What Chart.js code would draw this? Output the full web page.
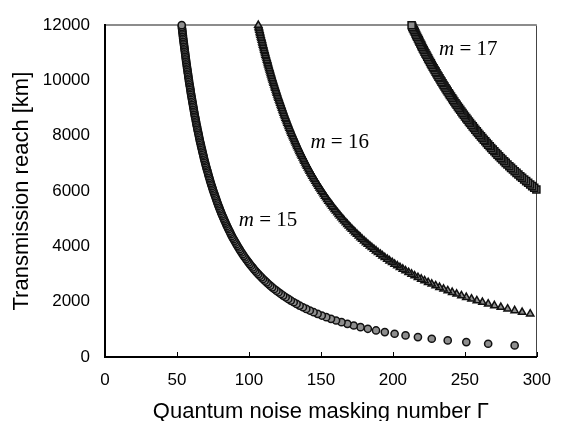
<!DOCTYPE html>
<html>
<head>
<meta charset="utf-8">
<script src="https://cdn.jsdelivr.net/npm/chart.js@4.4.0/dist/chart.umd.min.js"></script>
<style>
  html, body { margin: 0; padding: 0; background: #fff; }
  #wrap { width: 564px; height: 421px; }
</style>
</head>
<body>
<div id="wrap"><canvas id="chart"></canvas></div>
<script>
// transmission reach [km], shared by all three curves (longest curve first point = 420 km)
const reachKm = [
  420, 480, 540, 600, 660, 720, 780, 840, 900, 960,
  1020, 1080, 1140, 1200, 1260, 1320, 1380, 1440, 1500, 1560,
  1620, 1680, 1740, 1800, 1860, 1920, 1980, 2040, 2100, 2160,
  2220, 2280, 2340, 2400, 2460, 2520, 2580, 2640, 2700, 2760,
  2820, 2880, 2940, 3000, 3060, 3120, 3180, 3240, 3300, 3360,
  3420, 3480, 3540, 3600, 3660, 3720, 3780, 3840, 3900, 3960,
  4020, 4080, 4140, 4200, 4260, 4320, 4380, 4440, 4500, 4560,
  4620, 4680, 4740, 4800, 4860, 4920, 4980, 5040, 5100, 5160,
  5220, 5280, 5340, 5400, 5460, 5520, 5580, 5640, 5700, 5760,
  5820, 5880, 5940, 6000, 6060, 6120, 6180, 6240, 6300, 6360,
  6420, 6480, 6540, 6600, 6660, 6720, 6780, 6840, 6900, 6960,
  7020, 7080, 7140, 7200, 7260, 7320, 7380, 7440, 7500, 7560,
  7620, 7680, 7740, 7800, 7860, 7920, 7980, 8040, 8100, 8160,
  8220, 8280, 8340, 8400, 8460, 8520, 8580, 8640, 8700, 8760,
  8820, 8880, 8940, 9000, 9060, 9120, 9180, 9240, 9300, 9360,
  9420, 9480, 9540, 9600, 9660, 9720, 9780, 9840, 9900, 9960,
  10020, 10080, 10140, 10200, 10260, 10320, 10380, 10440, 10500, 10560,
  10620, 10680, 10740, 10800, 10860, 10920, 10980, 11040, 11100, 11160,
  11220, 11280, 11340, 11400, 11460, 11520, 11580, 11640, 11700, 11760,
  11820, 11880, 11940, 12000
];

// quantum noise masking number for m = 15 (one value per reach above)
const gammaM15 = [
  284.6, 266.2, 251.0, 238.1, 227.0, 217.4, 208.8, 201.2, 194.4, 188.3,
  182.6, 177.5, 172.8, 168.4, 164.3, 160.5, 157.0, 153.7, 150.6, 147.7,
  144.9, 142.3, 139.8, 137.5, 135.2, 133.1, 131.1, 129.1, 127.3, 125.5,
  123.8, 122.2, 120.6, 119.1, 117.6, 116.2, 114.8, 113.5, 112.3, 111.0,
  109.8, 108.7, 107.6, 106.5, 105.4, 104.4, 103.4, 102.5, 101.5, 100.6,
  99.7, 98.9, 98.0, 97.2, 96.4, 95.6, 94.9, 94.1, 93.4, 92.7,
  92.0, 91.3, 90.7, 90.0, 89.4, 88.7, 88.1, 87.5, 87.0, 86.4,
  85.8, 85.3, 84.7, 84.2, 83.7, 83.2, 82.7, 82.2, 81.7, 81.2,
  80.7, 80.3, 79.8, 79.4, 78.9, 78.5, 78.1, 77.7, 77.3, 76.9,
  76.5, 76.1, 75.7, 75.3, 74.9, 74.6, 74.2, 73.8, 73.5, 73.1,
  72.8, 72.5, 72.1, 71.8, 71.5, 71.2, 70.8, 70.5, 70.2, 69.9,
  69.6, 69.3, 69.0, 68.7, 68.5, 68.2, 67.9, 67.6, 67.4, 67.1,
  66.8, 66.6, 66.3, 66.0, 65.8, 65.5, 65.3, 65.1, 64.8, 64.6,
  64.3, 64.1, 63.9, 63.6, 63.4, 63.2, 63.0, 62.8, 62.5, 62.3,
  62.1, 61.9, 61.7, 61.5, 61.3, 61.1, 60.9, 60.7, 60.5, 60.3,
  60.1, 59.9, 59.7, 59.5, 59.4, 59.2, 59.0, 58.8, 58.6, 58.4,
  58.3, 58.1, 57.9, 57.8, 57.6, 57.4, 57.3, 57.1, 56.9, 56.8,
  56.6, 56.4, 56.3, 56.1, 56.0, 55.8, 55.7, 55.5, 55.4, 55.2,
  55.1, 54.9, 54.8, 54.6, 54.5, 54.3, 54.2, 54.1, 53.9, 53.8,
  53.7, 53.5, 53.4, 53.3
];

// m = 16, starts at 1560 km (points below that are off the axis)
const gammaM16 = [
  295.4,
  289.8, 284.6, 279.7, 275.0, 270.5, 266.2, 262.2, 258.3, 254.6, 251.0,
  247.6, 244.3, 241.2, 238.1, 235.2, 232.4, 229.7, 227.0, 224.5, 222.0,
  219.7, 217.4, 215.1, 213.0, 210.9, 208.8, 206.9, 204.9, 203.1, 201.2,
  199.5, 197.7, 196.1, 194.4, 192.8, 191.3, 189.7, 188.3, 186.8, 185.4,
  184.0, 182.6, 181.3, 180.0, 178.7, 177.5, 176.3, 175.1, 173.9, 172.8,
  171.6, 170.5, 169.4, 168.4, 167.3, 166.3, 165.3, 164.3, 163.3, 162.4,
  161.5, 160.5, 159.6, 158.7, 157.9, 157.0, 156.2, 155.3, 154.5, 153.7,
  152.9, 152.1, 151.4, 150.6, 149.9, 149.1, 148.4, 147.7, 147.0, 146.3,
  145.6, 144.9, 144.2, 143.6, 142.9, 142.3, 141.7, 141.0, 140.4, 139.8,
  139.2, 138.6, 138.1, 137.5, 136.9, 136.3, 135.8, 135.2, 134.7, 134.2,
  133.6, 133.1, 132.6, 132.1, 131.6, 131.1, 130.6, 130.1, 129.6, 129.1,
  128.7, 128.2, 127.7, 127.3, 126.8, 126.4, 125.9, 125.5, 125.1, 124.6,
  124.2, 123.8, 123.4, 123.0, 122.6, 122.2, 121.8, 121.4, 121.0, 120.6,
  120.2, 119.8, 119.4, 119.1, 118.7, 118.3, 118.0, 117.6, 117.2, 116.9,
  116.5, 116.2, 115.8, 115.5, 115.2, 114.8, 114.5, 114.2, 113.8, 113.5,
  113.2, 112.9, 112.6, 112.3, 111.9, 111.6, 111.3, 111.0, 110.7, 110.4,
  110.1, 109.8, 109.5, 109.3, 109.0, 108.7, 108.4, 108.1, 107.8, 107.6,
  107.3, 107.0, 106.8, 106.5
];

// m = 17, starts at 6060 km
const gammaM17 = [
  299.7, 298.2, 296.8, 295.4, 294.0, 292.6,
  291.2, 289.8, 288.5, 287.2, 285.9, 284.6, 283.4, 282.1, 280.9, 279.6,
  278.4, 277.3, 276.1, 275.0, 273.8, 272.7, 271.6, 270.5, 269.4, 268.3,
  267.3, 266.2, 265.2, 264.2, 263.2, 262.2, 261.2, 260.2, 259.2, 258.3,
  257.3, 256.4, 255.5, 254.6, 253.6, 252.8, 251.9, 251.0, 250.1, 249.3,
  248.4, 247.6, 246.8, 245.9, 245.1, 244.3, 243.5, 242.7, 241.9, 241.2,
  240.4, 239.6, 238.9, 238.1, 237.4, 236.6, 235.9, 235.2, 234.5, 233.8,
  233.1, 232.4, 231.7, 231.0, 230.3, 229.7, 229.0, 228.3, 227.7, 227.0,
  226.4, 225.8, 225.1, 224.5, 223.9, 223.3, 222.6, 222.0, 221.4, 220.8,
  220.2, 219.7, 219.1, 218.5, 218.0, 217.4, 216.8, 216.2, 215.7, 215.2,
  214.6, 214.0, 213.5, 213.0
];

const xTicks = [0, 50, 100, 150, 200, 250, 300];
const yTicks = [0, 2000, 4000, 6000, 8000, 10000, 12000];
const curveNames = ['15', '16', '17'];
// where each "m = .." label sits, in data units (left edge, middle)
const labelAnchors = [[92.9, 4931], [142.7, 7742], [232.1, 11104]];

const sansFont = '"Liberation Sans", Arial, sans-serif';
const serifFont = '"Liberation Serif", "Times New Roman", serif';

// pair each gamma with its reach; shorter curves use the tail of reachKm
function toPoints(gammas) {
  const reaches = reachKm.slice(reachKm.length - gammas.length);
  return gammas.map((g, i) => ({ x: g, y: reaches[i] }));
}

const curveLabelPlugin = {
  id: 'curveLabels',
  afterDatasetsDraw(chart) {
    const { ctx, chartArea, scales: { x, y } } = chart;
    ctx.save();

    // small inward tick marks on the x axis
    ctx.strokeStyle = '#000';
    ctx.lineWidth = 1;
    xTicks.forEach(v => {
      const px = Math.round(x.getPixelForValue(v)) + 0.5;
      ctx.beginPath();
      ctx.moveTo(px, chartArea.bottom);
      ctx.lineTo(px, chartArea.bottom - 5);
      ctx.stroke();
    });

    // "m = 15" etc, italic m
    ctx.fillStyle = '#000';
    ctx.textBaseline = 'middle';
    ctx.textAlign = 'left';
    curveNames.forEach((name, i) => {
      const px = x.getPixelForValue(labelAnchors[i][0]);
      const py = y.getPixelForValue(labelAnchors[i][1]);
      ctx.font = 'italic 21px ' + serifFont;
      ctx.fillText('m', px, py);
      const w = ctx.measureText('m').width;
      ctx.font = '21px ' + serifFont;
      ctx.fillText(' = ' + name, px + w, py);
    });
    ctx.restore();
  }
};

const markerFill = '#8e8e8e';
const markerEdge = '#111';

const ctx = document.getElementById('chart').getContext('2d');
new Chart(ctx, {
  type: 'scatter',
  data: {
    datasets: [
      {
        label: 'm = 15',
        data: toPoints(gammaM15),
        pointStyle: 'circle',
        pointRadius: 3.6,
        backgroundColor: markerFill,
        borderColor: markerEdge,
        borderWidth: 1.5,
        clip: false,
      },
      {
        label: 'm = 16',
        data: toPoints(gammaM16),
        pointStyle: 'triangle',
        pointRadius: 4.2,
        backgroundColor: markerFill,
        borderColor: markerEdge,
        borderWidth: 1.5,
        clip: false,
      },
      {
        label: 'm = 17',
        data: toPoints(gammaM17),
        pointStyle: 'rect',
        pointRadius: 5,
        backgroundColor: markerFill,
        borderColor: markerEdge,
        borderWidth: 1.5,
        clip: false,
      },
    ],
  },
  options: {
    responsive: true,
    maintainAspectRatio: false,
    animation: false,
    events: [],
    layout: {
      padding: { top: 18, right: 17, bottom: 0, left: 0 },
    },
    plugins: {
      legend: { display: false },
      tooltip: { enabled: false },
    },
    scales: {
      x: {
        type: 'linear',
        min: 0,
        max: 300,
        afterBuildTicks: scale => {
          scale.ticks = xTicks.map(v => ({ value: v }));
        },
        afterFit: scale => {
          scale.height = 64;
        },
        ticks: {
          padding: 13,
          color: '#000',
          font: { family: sansFont, size: 17 },
          maxRotation: 0,
        },
        grid: {
          drawTicks: false,
          lineWidth: 1,
          // only the right-hand frame line
          color: c => (c.tick && c.tick.value === 300 ? '#444' : 'rgba(0,0,0,0)'),
        },
        border: { color: '#000', width: 2 },
        title: {
          display: true,
          text: 'Quantum noise masking number Γ',
          color: '#000',
          font: { family: sansFont, size: 22, lineHeight: 1 },
          padding: { top: 0, bottom: -2 },
        },
      },
      y: {
        type: 'linear',
        min: 0,
        max: 12000,
        afterBuildTicks: scale => {
          scale.ticks = yTicks.map(v => ({ value: v }));
        },
        afterFit: scale => {
          scale.width = 105;
        },
        ticks: {
          padding: 15,
          color: '#000',
          font: { family: sansFont, size: 17 },
          callback: v => String(v),
        },
        grid: {
          drawTicks: false,
          lineWidth: 2,
          // only the gray top frame line
          color: c => (c.tick && c.tick.value === 12000 ? '#8c8c8c' : 'rgba(0,0,0,0)'),
        },
        border: { color: '#000', width: 2 },
        title: {
          display: true,
          text: 'Transmission reach [km]',
          color: '#000',
          font: { family: sansFont, size: 22, lineHeight: 1 },
          padding: { top: 11, bottom: 0 },
        },
      },
    },
  },
  plugins: [curveLabelPlugin],
});
</script>
</body>
</html>
